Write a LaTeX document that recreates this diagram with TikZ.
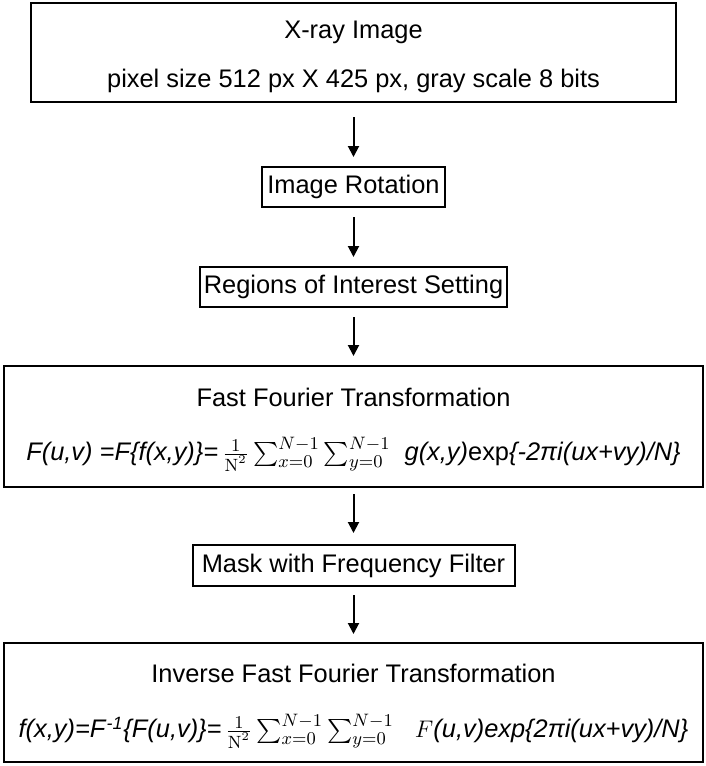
\documentclass[tikz,border=0pt]{standalone}
\usepackage{amsmath}
\usepackage{fontspec}
\setmainfont{Liberation Sans}
\newfontfamily\lmr{Latin Modern Roman}
\usetikzlibrary{positioning,arrows.meta}

\tikzstyle{stage} = [draw, line width=1pt, inner sep=0pt, text centered]
\tikzstyle{small} = [stage, minimum height=20pt]
\tikzstyle{big} = [stage, minimum width=349.5pt]
\tikzstyle{flow} = [line width=1pt, -{Triangle[length=5.5pt,width=5.5pt]}]

\newcommand{\dsum}{\,\frac{1}{\text{\lmr N}^2}\sum_{x=0}^{N-1}\sum_{y=0}^{N-1}}

\begin{document}
\begin{tikzpicture}[font=\fontsize{12.7}{15}\selectfont]
\useasboundingbox (0,0) rectangle (353pt,-383pt);

\node[stage, minimum width=322.5pt, minimum height=49.5pt] (xray) at (176.75pt,-26.25pt) {};
\node (xrayT) at ([yshift=-15pt]xray.north) {X-ray Image};
\node (xrayS) at ([yshift=-39.5pt]xray.north) {pixel size 512 px X 425 px, gray scale 8 bits};

\node[small, minimum width=91.5pt, below=31.5pt of xray] (rot) {Image Rotation};
\node[small, minimum width=153.5pt, below=29pt of rot] (roi) {Regions of Interest Setting};

\node[big, minimum height=60.5pt, below=28.5pt of roi] (fft) {};
\node (fftT) at ([yshift=-16pt]fft.north) {Fast Fourier Transformation};
\node (fftF) at ([yshift=-44.5pt]fft.north)
    {\textit{F(u,v) =F\{f(x,y)\}=}$\dsum$\ \ \textit{g(x,y)}exp\textit{\{-2πi(ux+vy)/N\}}};

\node[small, minimum width=161pt, minimum height=20.5pt, below=28pt of fft] (mask) {Mask with Frequency Filter};

\node[big, minimum height=59.5pt, below=27.5pt of mask] (ifft) {};
\node (ifftT) at ([yshift=-15.5pt]ifft.north) {Inverse Fast Fourier Transformation};
\node (ifftF) at ([yshift=-44.5pt]ifft.north)
    {\textit{f(x,y)=F}\textsuperscript{\textit{-1}}\textit{\{F(u,v)\}=}$\dsum$\ \ \ $F$\textit{(u,v)exp\{2πi(ux+vy)/N\}}};

\draw[flow] ([yshift=-7pt]xray.south) -- ([yshift=4.5pt]rot.north);
\draw[flow] ([yshift=-4.5pt]rot.south) -- ([yshift=4.5pt]roi.north);
\draw[flow] ([yshift=-4.5pt]roi.south) -- ([yshift=4.5pt]fft.north);
\draw[flow] ([yshift=-3pt]fft.south) -- ([yshift=5.5pt]mask.north);
\draw[flow] ([yshift=-4pt]mask.south) -- ([yshift=4pt]ifft.north);
\end{tikzpicture}
\end{document}
